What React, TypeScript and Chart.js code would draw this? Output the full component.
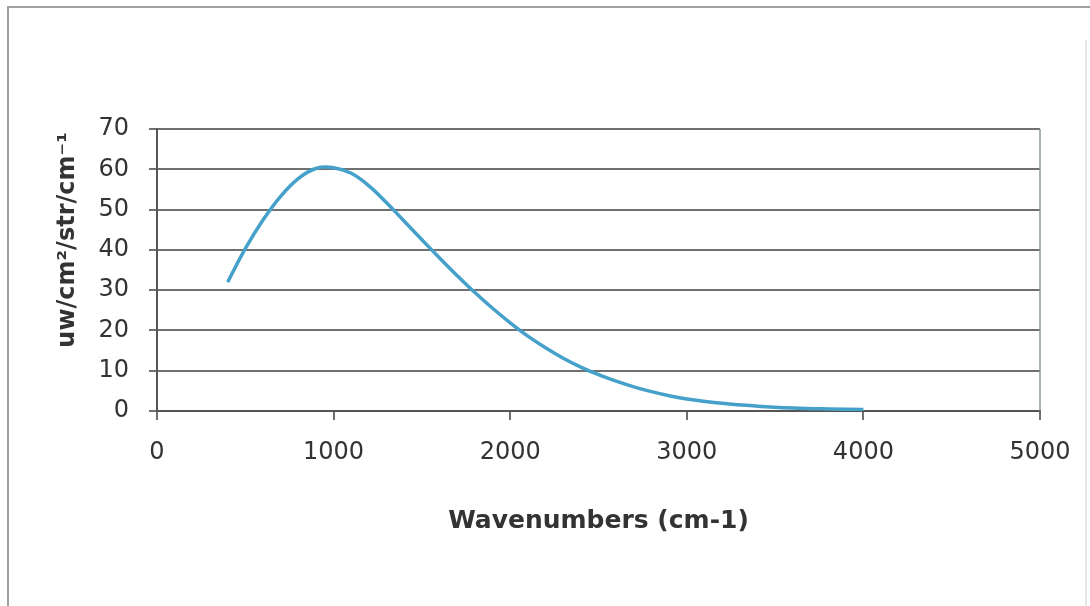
import React, { useEffect, useRef } from "react";
import { Chart, registerables } from "chart.js";

Chart.register(...registerables);

const wavenumbers = [400, 500, 600, 700, 800, 900, 1000, 1100, 1200, 1300, 1400, 1500, 1600, 1700, 1800, 1900, 2000, 2100, 2200, 2300, 2400, 2500, 2600, 2700, 2800, 2900, 3000, 3200, 3400, 3600, 3800, 4000];
const radiance = [32, 40.3, 47.4, 53.3, 57.7, 60.2, 60.4, 59.0, 55.9, 51.7, 47.1, 42.5, 38.0, 33.6, 29.4, 25.5, 21.9, 18.6, 15.7, 13.1, 10.9, 9.0, 7.4, 6.0, 4.8, 3.8, 3.0, 1.9, 1.2, 0.75, 0.5, 0.35];

const xTitle = "Wavenumbers (cm-1)";
const yTitle = "uw/cm²/str/cm⁻¹";
const xMin = 0;
const xMax = 5000;
const xStep = 1000;
const yMin = 0;
const yMax = 70;
const yStep = 10;

const FONT = "'DejaVu Sans', 'Liberation Sans', Arial, sans-serif";

const decorPlugin = {
  id: "decor",
  afterDraw(chart: any) {
    const { ctx, chartArea } = chart;
    ctx.save();
    // outer frame (left and top visible)
    ctx.strokeStyle = "#a0a0a0";
    ctx.lineWidth = 2;
    ctx.beginPath();
    ctx.moveTo(8, 606);
    ctx.lineTo(8, 7);
    ctx.lineTo(1090, 7);
    ctx.stroke();
    ctx.strokeStyle = "#e6e6e6";
    ctx.beginPath();
    ctx.moveTo(1086, 40);
    ctx.lineTo(1086, 606);
    ctx.stroke();
    // right edge of plot area
    ctx.strokeStyle = "#8a9a9a";
    ctx.lineWidth = 1.5;
    ctx.beginPath();
    ctx.moveTo(chartArea.right, chartArea.top);
    ctx.lineTo(chartArea.right, chartArea.bottom);
    ctx.stroke();
    // y axis title
    ctx.translate(68, 240);
    ctx.rotate(-Math.PI / 2);
    ctx.font = "bold 24px " + FONT;
    ctx.fillStyle = "#333333";
    ctx.textAlign = "center";
    ctx.textBaseline = "middle";
    ctx.fillText(yTitle, 0, 0);
    ctx.restore();
  },
};

export default function App() {
  const ref = useRef<HTMLCanvasElement | null>(null);

  useEffect(() => {
    if (!ref.current) return;
    const points = wavenumbers.map((x, i) => ({ x, y: radiance[i] }));
    const chart = new Chart(ref.current, {
      type: "line",
      data: {
        datasets: [
          {
            data: points,
            borderColor: "#45a0ca",
            borderWidth: 3.5,
            pointRadius: 0,
            tension: 0.4,
            fill: false,
          },
        ],
      },
      options: {
        animation: false,
        responsive: false,
        maintainAspectRatio: false,
        layout: { padding: { left: 0, right: 50, top: 129, bottom: 0 } },
        plugins: { legend: { display: false }, tooltip: { enabled: false } },
        scales: {
          x: {
            type: "linear",
            min: xMin,
            max: xMax,
            afterFit: (s: any) => {
              s.height = 195;
            },
            ticks: {
              stepSize: xStep,
              color: "#333333",
              padding: 18,
              maxRotation: 0,
              font: { family: FONT, size: 24 },
              callback: (v: any) => String(v),
            },
            grid: {
              drawOnChartArea: false,
              drawTicks: true,
              tickLength: 9,
              color: "#707070",
              lineWidth: 2,
            },
            border: { display: true, color: "#555555", width: 2 },
            title: {
              display: true,
              text: xTitle,
              color: "#333333",
              font: { family: FONT, size: 25, weight: "bold" },
              padding: { top: 0, bottom: 70 },
            },
          },
          y: {
            type: "linear",
            min: yMin,
            max: yMax,
            afterFit: (s: any) => {
              s.width = 157;
            },
            ticks: {
              stepSize: yStep,
              color: "#333333",
              padding: 20,
              font: { family: FONT, size: 24 },
              callback: (v: any) => String(v),
            },
            grid: {
              drawTicks: true,
              tickLength: 8,
              color: "#707070",
              lineWidth: 2,
            },
            border: { display: true, color: "#555555", width: 2 },
          },
        },
      },
      plugins: [decorPlugin],
    } as any);
    return () => chart.destroy();
  }, []);

  return (
    <div style={{ position: "fixed", left: 0, top: 0, width: 1090, height: 606, overflow: "hidden", background: "#ffffff" }}>
      <canvas ref={ref} width={1090} height={606} style={{ display: "block", width: 1090, height: 606 }} />
    </div>
  );
}
